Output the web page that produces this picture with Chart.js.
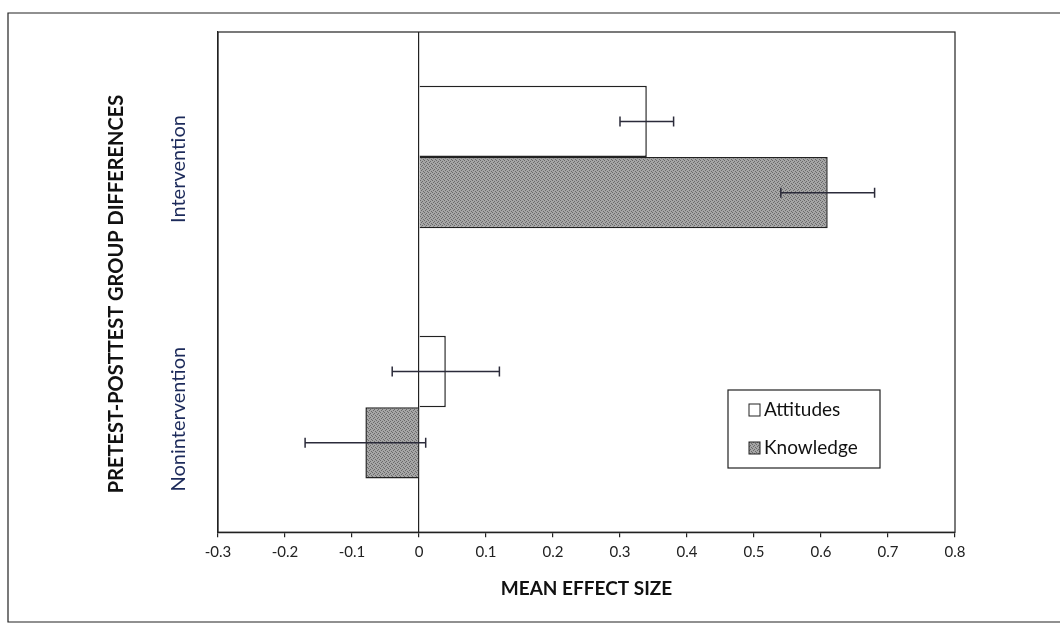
<!DOCTYPE html>
<html>
<head>
<meta charset="utf-8">
<script src="https://cdn.jsdelivr.net/npm/chart.js@4.4.0/dist/chart.umd.min.js"></script>
<style>
html,body{margin:0;padding:0;background:#fff;}
#wrap{width:1060px;height:625px;position:relative;}
</style>
</head>
<body>
<div id="wrap"><canvas id="effectChart" width="1060" height="625"></canvas></div>
<script>
const groups = ["Intervention","Nonintervention"];
const attitudes = [0.34,0.04];
const knowledge = [0.61,-0.08];
const attitudesErr = [0.04,0.08];
const knowledgeErr = [0.07,0.09];
const xTicks = [-0.3,-0.2,-0.1,0,0.1,0.2,0.3,0.4,0.5,0.6,0.7,0.8];

const FONT = "Lato, 'Open Sans', sans-serif";

// stippled grey fill like the printed figure
function stipple(){
const c = document.createElement("canvas");
c.width = 4; c.height = 4;
const g = c.getContext("2d");
g.fillStyle = "#a6a6a6";
g.fillRect(0,0,4,4);
g.fillStyle = "#6a6a6a";
g.fillRect(0,0,1,1);
g.fillRect(2,1,1,1);
g.fillRect(1,2,1,1);
g.fillRect(3,3,1,1);
return g.createPattern(c,"repeat");
}
const knowFill = stipple();

const errorBars = {
id:"errorBars",
afterDatasetsDraw(chart){
const ctx = chart.ctx;
const x = chart.scales.x;
const errs = [attitudesErr,knowledgeErr];
ctx.save();
ctx.strokeStyle = "#2b2b3a";
ctx.lineWidth = 1.5;
chart.data.datasets.forEach((ds,di)=>{
const meta = chart.getDatasetMeta(di);
meta.data.forEach((bar,i)=>{
const v = ds.data[i], e = errs[di][i];
const x1 = x.getPixelForValue(v-e), x2 = x.getPixelForValue(v+e);
const y = bar.y;
ctx.beginPath();
ctx.moveTo(x1,y); ctx.lineTo(x2,y);
ctx.moveTo(x1,y-5); ctx.lineTo(x1,y+5);
ctx.moveTo(x2,y-5); ctx.lineTo(x2,y+5);
ctx.stroke();
});
});
ctx.restore();
}
};

const decor = {
id:"decor",
beforeDraw(chart){
const ctx = chart.ctx;
ctx.save();
ctx.strokeStyle = "#222";
ctx.lineWidth = 1.2;
ctx.beginPath();
ctx.moveTo(1060,13); ctx.lineTo(8,13); ctx.lineTo(8,622); ctx.lineTo(1060,622);
ctx.stroke();
ctx.restore();
},
afterDraw(chart){
const ctx = chart.ctx;
const a = chart.chartArea;
const y = chart.scales.y;
ctx.save();
ctx.strokeStyle = "#222";
ctx.lineWidth = 1.2;
ctx.strokeRect(a.left,a.top,a.right-a.left,a.bottom-a.top);
// category labels, rotated
ctx.fillStyle = "#1c2a5a";
ctx.font = "20px " + FONT;
ctx.textAlign = "center";
ctx.textBaseline = "middle";
groups.forEach((g,i)=>{
ctx.save();
ctx.translate(179,y.getPixelForTick(i)+12);
ctx.rotate(-Math.PI/2);
ctx.fillText(g,0,0);
ctx.restore();
});
// y title
ctx.save();
ctx.fillStyle = "#111";
ctx.font = "bold 20px " + FONT;
ctx.translate(117,294);
ctx.rotate(-Math.PI/2);
ctx.fillText("PRETEST-POSTTEST GROUP DIFFERENCES",0,0);
ctx.restore();
// legend
const lx = 728, ly = 390, lw = 152, lh = 78;
ctx.fillStyle = "#fff";
ctx.fillRect(lx,ly,lw,lh);
ctx.strokeStyle = "#222";
ctx.strokeRect(lx,ly,lw,lh);
ctx.font = "19px " + FONT;
ctx.textAlign = "left";
chart.data.datasets.forEach((ds,i)=>{
const iy = ly + 20 + i*38;
ctx.fillStyle = ds.backgroundColor;
ctx.fillRect(lx+21,iy-6,11,12);
ctx.strokeStyle = "#222";
ctx.lineWidth = 1;
ctx.strokeRect(lx+21,iy-6,11,12);
ctx.fillStyle = "#111";
ctx.fillText(ds.label,lx+36,iy);
});
ctx.restore();
}
};

new Chart(
document.getElementById("effectChart"),
{
type:"bar",
data:{
labels:groups,
datasets:[{
label:"Attitudes",
data:attitudes,
backgroundColor:"#ffffff",
borderColor:"#222",
borderWidth:1.5
},{
label:"Knowledge",
data:knowledge,
backgroundColor:knowFill,
borderColor:"#222",
borderWidth:1.5
}]
},
plugins:[decor,errorBars],
options:{
indexAxis:"y",
responsive:false,
animation:false,
layout:{padding:{left:218,right:105,top:32,bottom:25}},
categoryPercentage:0.57,
barPercentage:1.0,
plugins:{legend:{display:false},tooltip:{enabled:false}},
scales:{
x:{
min:-0.3,max:0.8,
afterBuildTicks(s){ s.ticks = xTicks.map(v=>({value:v})); },
ticks:{
color:"#222",
font:{family:FONT,size:15},
padding:6,
callback:v=>String(Math.round(v*10)/10)
},
grid:{
drawOnChartArea:true,
drawTicks:true,
tickLength:5,
tickColor:"#222",
color:c=>c.tick && Math.abs(c.tick.value)<1e-9 ? "#222" : "rgba(0,0,0,0)",
lineWidth:1.2
},
border:{display:true,color:"#222",width:1.2},
title:{
display:true,
text:"MEAN EFFECT SIZE",
color:"#111",
font:{family:FONT,size:19,weight:"bold"},
padding:{top:10,bottom:0}
}
},
y:{
afterFit(s){ s.width = 0; },
ticks:{display:false},
grid:{display:false},
border:{display:true,color:"#222",width:1.2}
}
}
}
});
</script>
</body>
</html>
